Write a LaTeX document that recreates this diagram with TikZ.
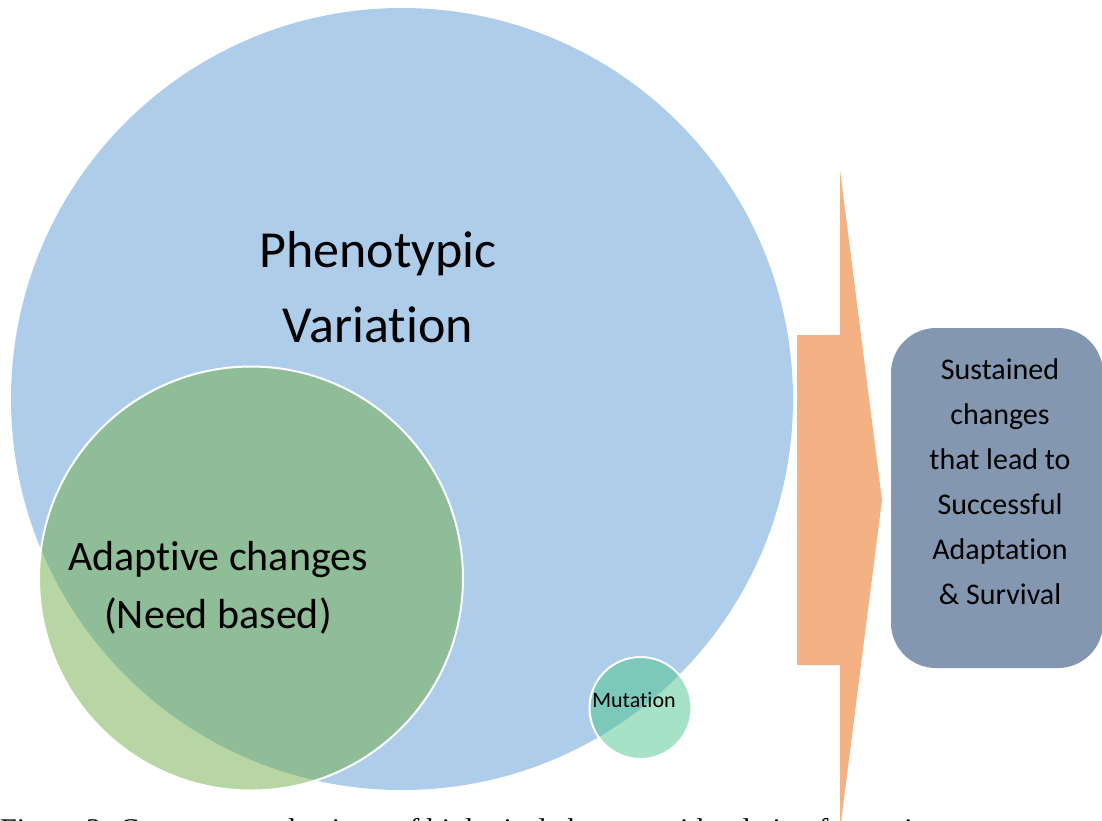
\documentclass[tikz,border=0pt]{standalone}
\usepackage{fontspec}
\setmainfont{Carlito}[Ligatures={NoCommon}]
\newfontfamily\capfont{Liberation Serif}
\definecolor{bluec}{HTML}{5B9BD5}
\definecolor{greenc}{HTML}{70AD47}
\definecolor{mutc}{RGB}{77,197,141}
\definecolor{arrowc}{HTML}{F4B183}
\definecolor{boxc}{HTML}{8497B0}
\begin{document}
\begin{tikzpicture}[x=1pt,y=-1pt,
  venn/.style={circle,inner sep=0pt,fill opacity=0.5,draw opacity=1},
  lbl/.style={align=center,text=black,inner sep=0pt}]
\useasboundingbox (0,0) rectangle (1102,820);
\clip (0,0) rectangle (1102,820);
% circles
\node[venn,fill=bluec,minimum size=782pt] (pheno) at (402,399) {};
\node[venn,fill=greenc,draw=white,line width=2pt,minimum size=424pt] (adapt) at (251,578.5) {};
\node[venn,fill=mutc,draw=white,line width=2pt,minimum size=102pt] (mut) at (640.5,708) {};
% block arrow
\fill[arrowc] (797,335) -- (840,335) -- (840,170) -- (882,500) -- (840,830) -- (840,665) -- (797,665) -- cycle;
% result box
\node[fill=boxc,rounded corners=45pt,minimum width=212pt,minimum height=340pt,inner sep=0pt] (result) at (997,498) {};
% labels (base anchor = last line baseline)
\node[lbl,anchor=base,font=\fontsize{52}{75}\selectfont] (phenotxt) at (378,342) {Phenotypic\\Variation};
\node[lbl,anchor=base,font=\fontsize{42}{58}\selectfont] (adapttxt) at (218,628) {Adaptive changes\\(Need based)};
\node[lbl,anchor=base,font=\fontsize{22}{26}\selectfont] (muttxt) at (634,707) {Mutation};
\node[lbl,anchor=base,font=\fontsize{30}{45}\selectfont] (resulttxt) at (1000,604) {Sustained\\changes\\that lead to\\Successful\\Adaptation\\\& Survival};
\node[anchor=base west,inner sep=0pt,font=\capfont\fontsize{30}{36}\selectfont] (caption) at (0,839) {Figure 3: Common mechanisms of biological changes with relation for environment};
\end{tikzpicture}
\end{document}
